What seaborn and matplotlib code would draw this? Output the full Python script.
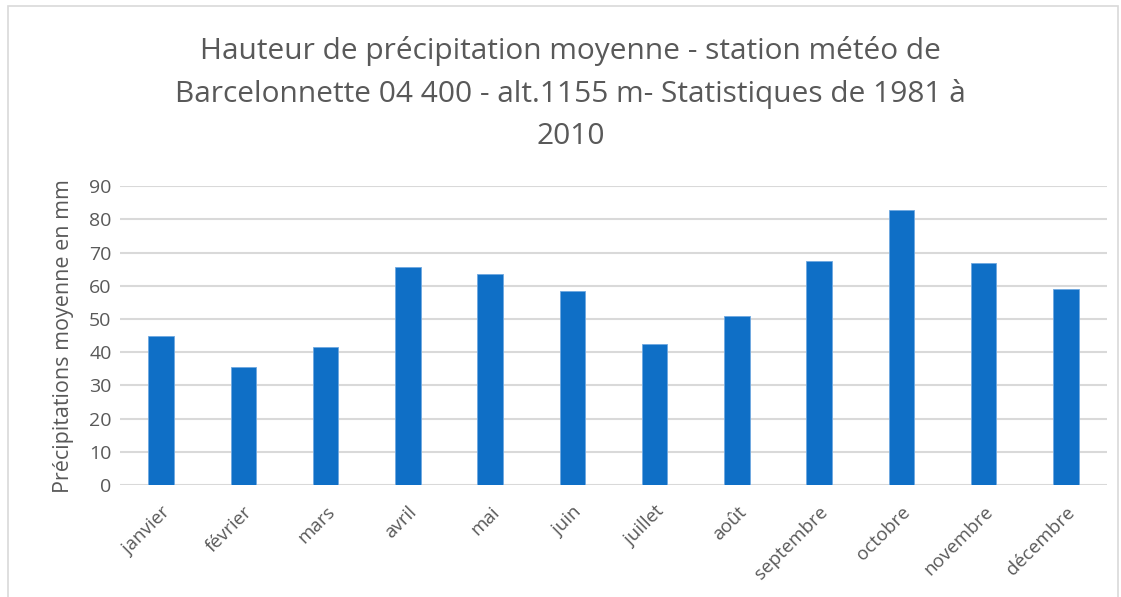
import pandas as pd
import matplotlib.pyplot as plt
import seaborn as sns
from matplotlib.patches import Rectangle

sns.set_theme(style="white")
plt.rcParams['font.family'] = ['Open Sans', 'DejaVu Sans']

# données
mois = ['janvier', 'février', 'mars', 'avril', 'mai', 'juin',
        'juillet', 'août', 'septembre', 'octobre', 'novembre', 'décembre']
precip = [45.0, 35.5, 41.5, 65.8, 63.5, 58.4, 42.6, 51.0, 67.4, 82.7, 66.9, 58.9]

df = pd.DataFrame({'Mois': mois, 'Precip': precip})

fig = plt.figure(figsize=(11.21, 5.97), dpi=100)
ax = fig.add_axes([0.107, 0.1876, 0.8805, 0.5005])

sns.barplot(data=df, x='Mois', y='Precip', color='#0F6FC6', width=0.31,
            saturation=1, edgecolor='#6FA8E0', linewidth=0.6, ax=ax, zorder=3)

ax.set_ylim(0, 90)
ax.set_xlim(-0.5, 11.5)
ax.set_yticks(range(0, 91, 10))
ax.yaxis.grid(True, color='#D9D9D9', linewidth=1.5, zorder=0)
ax.set_axisbelow(True)
for s in ax.spines.values():
    s.set_visible(False)

ax.tick_params(axis='y', length=0, labelsize=14, labelcolor='#595959', pad=6)
ax.tick_params(axis='x', length=0, labelsize=13.5, labelcolor='#595959', pad=13)
for lbl in ax.get_xticklabels():
    lbl.set_rotation(45)
    lbl.set_ha('right')
    lbl.set_rotation_mode('anchor')

ax.set_xlabel('')
ax.set_ylabel('Précipitations moyenne en mm', fontsize=15.5, color='#595959', labelpad=11)

fig.text(0.509, 0.94,
         "Hauteur de précipitation moyenne - station météo de\n"
         "Barcelonnette 04 400 - alt.1155 m- Statistiques de 1981 à\n2010",
         ha='center', va='top', fontsize=21.5, color='#595959', linespacing=1.58)

# cadre du graphique
fig.patches.append(Rectangle((0.007, -0.02), 0.99, 1.01, transform=fig.transFigure,
                             fill=False, edgecolor='#D9D9D9', linewidth=1.2))

fig.savefig('out.png', dpi=100)
